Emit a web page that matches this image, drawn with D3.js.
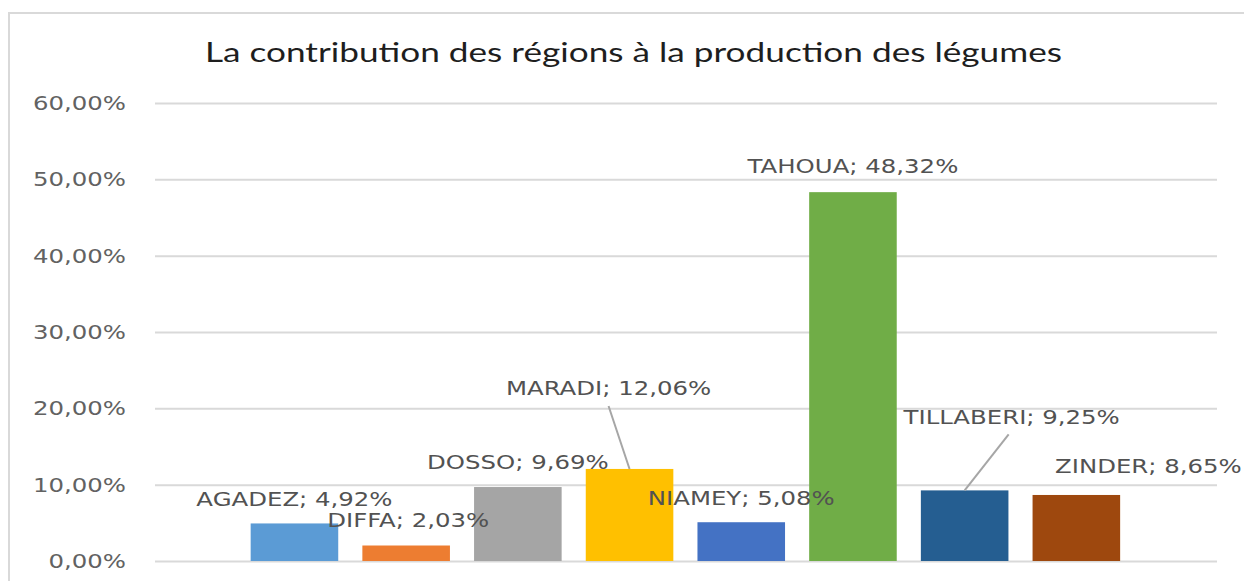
<!DOCTYPE html>
<html><head>
<meta charset="UTF-8">
<script src="https://cdn.jsdelivr.net/npm/d3@7"></script>
<style>
body{margin:0;background:#fff;}
svg text{font-family:"DejaVu Sans",Verdana,sans-serif;}
.title{font-family:Lato,"Open Sans",sans-serif;fill:#1e1e1e;}
</style>
</head><body>
<svg id="chart" width="1244" height="581"></svg>
<script>
// donnees du graphique
var regions = ["AGADEZ","DIFFA","DOSSO","MARADI","NIAMEY","TAHOUA","TILLABERI","ZINDER"];
var parts = [4.92, 2.03, 9.69, 12.06, 5.08, 48.32, 9.25, 8.65];
var couleurs = ["#5b9bd5","#ed7d31","#a5a5a5","#ffc000","#4472c4","#70ad47","#255e91","#9e480e"];
var yTicks = [0, 10, 20, 30, 40, 50, 60];
var titre = "La contribution des régions à la production des légumes";

// placement manuel des etiquettes (comme dans Excel), par rapport au haut de la barre
var labelPos = [
  {dx:0, dy:-25, leader:false},
  {dx:2, dy:-26, leader:false},
  {dx:0, dy:-25, leader:false},
  {dx:-21, dy:-81, leader:true},
  {dx:0, dy:-24, leader:false},
  {dx:0, dy:-26, leader:false},
  {dx:47, dy:-74, leader:true},
  {dx:72, dy:-29, leader:false}
];

var sx = 1.22; // le texte de l'image est etire horizontalement
var fmt = function(v){ return v.toFixed(2).replace(".", ",") + "%"; };

var svg = d3.select("#chart");

// cadre
svg.append("rect").attr("x",9).attr("y",13).attr("width",1400).attr("height",800)
  .attr("fill","none").attr("stroke","#d9d9d9").attr("stroke-width",2);

// titre
svg.append("text").attr("class","title")
  .attr("x",205).attr("y",62)
  .attr("font-size",27)
  .attr("textLength",857).attr("lengthAdjust","spacingAndGlyphs")
  .text(titre);

var y = d3.scaleLinear().domain([0,60]).range([561,103]);
var x = d3.scaleBand().domain(regions).range([238.6,1132.2]).paddingInner(0.216).paddingOuter(0.108);

var gridL = 155, gridR = 1217;

var yAxis = svg.append("g").attr("transform","translate(" + gridL + ",0)")
  .call(d3.axisLeft(y).tickValues(yTicks).tickFormat(fmt).tickSize(-(gridR - gridL)).tickPadding(0));
yAxis.select(".domain").remove();
yAxis.selectAll(".tick line").attr("stroke","#d9d9d9").attr("stroke-width",2);
yAxis.selectAll(".tick text")
  .attr("x",-29/sx).attr("transform","scale(" + sx + ",1)")
  .attr("font-size",20).attr("fill","#626262")
  .attr("font-family","DejaVu Sans");

// barres
svg.append("g").selectAll("rect").data(regions).join("rect")
  .attr("x", function(d){ return x(d); })
  .attr("width", x.bandwidth())
  .attr("y", function(d,i){ return y(parts[i]); })
  .attr("height", function(d,i){ return y(0) - y(parts[i]); })
  .attr("fill", function(d,i){ return couleurs[i]; });

// lignes de rappel
var lab = svg.append("g");
regions.forEach(function(d,i){
  var cx = x(d) + x.bandwidth()/2, top = y(parts[i]);
  var p = labelPos[i];
  var lx = cx + p.dx, ly = top + p.dy;
  if(p.leader){
    lab.append("line")
      .attr("x1", lx + (p.dx > 0 ? -3 : 0)).attr("y1", ly + 18)
      .attr("x2", cx).attr("y2", top)
      .attr("stroke","#a6a6a6").attr("stroke-width",2);
  }
});
// etiquettes
regions.forEach(function(d,i){
  var cx = x(d) + x.bandwidth()/2, top = y(parts[i]);
  var p = labelPos[i];
  lab.append("text")
    .attr("transform","translate(" + (cx + p.dx) + "," + (top + p.dy) + ") scale(" + sx + ",1)")
    .attr("text-anchor","middle").attr("dy","0.36em")
    .attr("font-size",20).attr("fill","#525252")
    .text(d + "; " + fmt(parts[i]));
});
</script>
</body></html>
